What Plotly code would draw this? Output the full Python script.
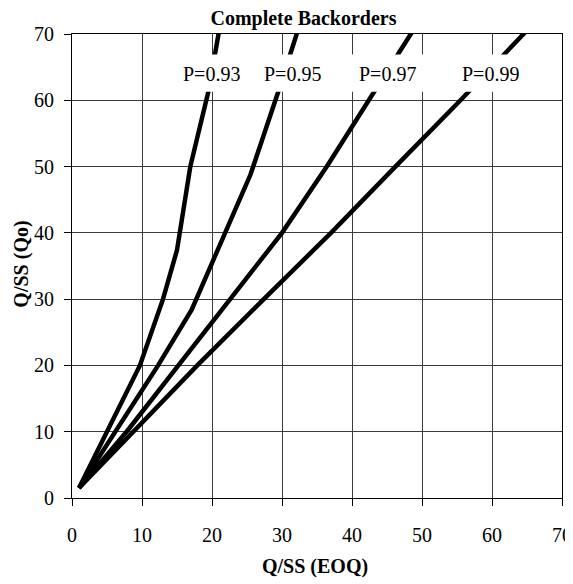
import plotly.graph_objects as go

# ---- data ----
x_p93 = [1.0, 5.0, 9.7, 13.0, 15.0, 16.9, 19.5, 21.1]
y_p93 = [1.5, 10, 20, 30, 37.4, 50, 61.4, 71]

x_p95 = [1.0, 6.2, 12.3, 17.1, 21.8, 25.5, 29.5, 32.4]
y_p95 = [1.5, 10, 20, 28.4, 40, 48.8, 61.4, 71]

x_p97 = [1.0, 7.8, 15.2, 22.6, 30.0, 36.4, 42.4, 49.0]
y_p97 = [1.5, 10, 20, 30, 40, 50, 60, 71]

x_p99 = [1.0, 8.8, 17.9, 27.4, 37.0, 46.2, 55.5, 65.4]
y_p99 = [1.5, 10, 20, 30, 40, 50, 60, 71]

series_names = ["P=0.93", "P=0.95", "P=0.97", "P=0.99"]
label_x = [19.9, 31.5, 45.0, 59.8]
label_y = 63.9

tick_vals = [0, 10, 20, 30, 40, 50, 60, 70]
tick_text = ["0", "10", "20", "30", "40", "50", "60", "70"]

FONT = "Liberation Serif, Times New Roman, serif"

# page body has an 8px default margin; size the figure to fit the window
W, H = 565, 576

fig = go.Figure()
for xs, ys, nm in zip([x_p93, x_p95, x_p97, x_p99],
                      [y_p93, y_p95, y_p97, y_p99], series_names):
    fig.add_trace(go.Scatter(x=xs, y=ys, mode="lines", name=nm,
                             line=dict(color="black", width=4.5),
                             showlegend=False, hoverinfo="skip"))

# white band behind labels
fig.add_shape(type="rect", xref="x", yref="y", x0=14.2, x1=66.6, y0=61.3, y1=66.9,
              fillcolor="white", line=dict(width=0), layer="above")

for lx, nm in zip(label_x, series_names):
    fig.add_annotation(x=lx, y=label_y, xref="x", yref="y", text=nm, showarrow=False,
                       xanchor="center", yanchor="middle",
                       font=dict(family=FONT, size=20, color="black"))

# axis titles
fig.add_annotation(x=0.4955, y=-0.148, xref="paper", yref="paper",
                   text="<b>Q/SS (EOQ)</b>", showarrow=False,
                   xanchor="center", yanchor="middle",
                   font=dict(family=FONT, size=20, color="black"))
fig.add_annotation(x=-0.102, y=0.503, xref="paper", yref="paper",
                   text="<b>Q/SS (Qo)</b>", showarrow=False, textangle=-90,
                   xanchor="center", yanchor="middle", borderpad=0,
                   font=dict(family=FONT, size=20, color="black"))

axis_common = dict(
    range=[0, 70], tickmode="array", tickvals=tick_vals, ticktext=tick_text,
    showgrid=True, gridcolor="#3a3a3a", gridwidth=1,
    showline=True, linecolor="black", linewidth=1.2, mirror=True,
    ticks="outside", ticklen=7, tickcolor="black", tickwidth=1,
    zeroline=False, automargin=False,
    tickfont=dict(family=FONT, size=20, color="black"),
    fixedrange=True,
)

fig.update_xaxes(**axis_common, ticklabelstandoff=12)
fig.update_yaxes(**axis_common, ticklabelstandoff=6)

fig.update_layout(
    width=W, height=H,
    margin=dict(l=64, r=11, t=26, b=86, autoexpand=False),
    paper_bgcolor="white", plot_bgcolor="white",
    title=dict(text="<b>Complete Backorders</b>", x=295.5 / W, xanchor="center",
               y=1 - 10 / H, yanchor="middle",
               font=dict(family=FONT, size=20, color="black")),
)

fig.write_html("out.html")
